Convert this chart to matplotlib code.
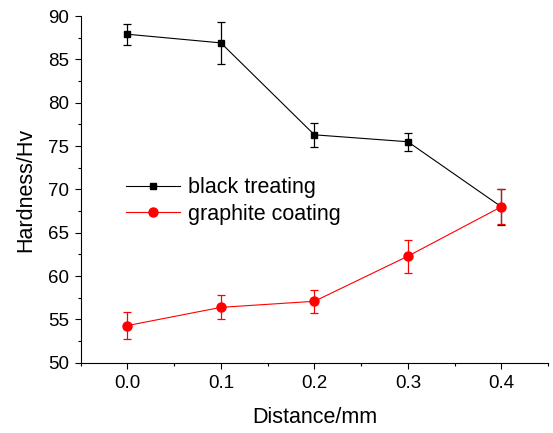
import matplotlib
matplotlib.use('Agg')
import matplotlib.pyplot as plt
from matplotlib.ticker import MultipleLocator

plt.rcParams['font.family'] = ['Liberation Sans', 'DejaVu Sans']

distance = [0.0, 0.1, 0.2, 0.3, 0.4]
black_hv = [87.9, 86.9, 76.3, 75.5, 68.0]
black_err = [1.2, 2.4, 1.4, 1.05, 2.05]
graphite_hv = [54.3, 56.4, 57.1, 62.3, 68.0]
graphite_err = [1.6, 1.4, 1.3, 1.9, 2.0]

fig = plt.figure(figsize=(5.53, 4.33), dpi=100)
ax = fig.add_axes([0.146, 0.162, 0.845, 0.801])

# error bars first, lines + markers on top (legend shows only line + marker)
ax.errorbar(distance, black_hv, yerr=black_err, fmt='none', ecolor='black',
            elinewidth=0.9, capsize=3, capthick=0.9)
ax.errorbar(distance, graphite_hv, yerr=graphite_err, fmt='none', ecolor='red',
            elinewidth=0.9, capsize=3, capthick=0.9)
ax.plot(distance, black_hv, color='black', marker='s', markersize=5,
        linewidth=0.8, label='black treating')
ax.plot(distance, graphite_hv, color='red', marker='o', markersize=6.5,
        linewidth=0.8, label='graphite coating')

ax.set_xlim(-0.05, 0.45)
ax.set_ylim(50, 90)
ax.xaxis.set_minor_locator(MultipleLocator(0.05))
ax.yaxis.set_major_locator(MultipleLocator(5))
ax.yaxis.set_minor_locator(MultipleLocator(2.5))
ax.set_xticks(distance)
ax.set_xticklabels(['0.0', '0.1', '0.2', '0.3', '0.4'])

ax.spines['top'].set_visible(False)
ax.spines['right'].set_visible(False)
ax.tick_params(which='major', direction='out', length=4.5, width=0.8,
               labelsize=13.5, pad=4)
ax.tick_params(which='minor', direction='out', length=2.5, width=0.8)

ax.set_xlabel('Distance/mm', fontsize=15.5, labelpad=11)
ax.set_ylabel('Hardness/Hv', fontsize=15.5, labelpad=8.5)

ax.legend(loc='center left', bbox_to_anchor=(0.096, 0.467),
          frameon=False, fontsize=15.5, handlelength=2.55,
          handletextpad=0.33, borderpad=0, borderaxespad=0,
          labelspacing=0.25)

fig.savefig('out.png', dpi=100)
